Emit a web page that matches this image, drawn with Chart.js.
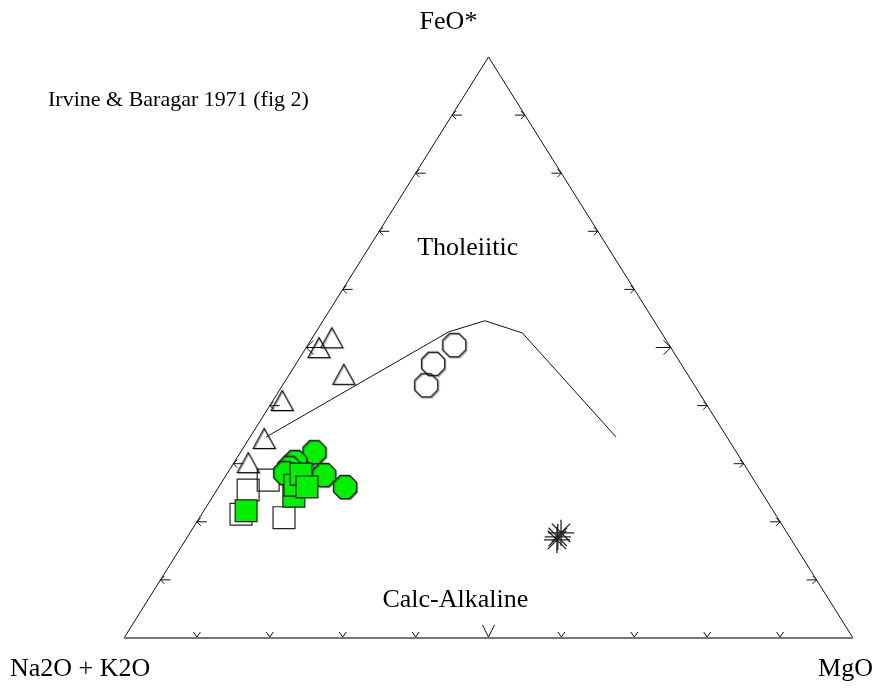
<!DOCTYPE html>
<html>
<head>
<meta charset="utf-8">
<script src="https://cdn.jsdelivr.net/npm/chart.js@4.4.0/dist/chart.umd.min.js"></script>
<style>
body{margin:0;background:#fff;}
#wrap{width:879px;height:688px;position:relative;}
</style>
</head>
<body>
<div id="wrap"><canvas id="myChart"></canvas></div>
<script>
// every point is [Na2O+K2O, FeO*, MgO] in %
const apexLabels = ['Na2O + K2O', 'FeO*', 'MgO'];
const title = 'Irvine & Baragar 1971 (fig 2)';
const fieldLabels = ['Tholeiitic', 'Calc-Alkaline'];
const fieldPos = [[19.3, 67.1, 13.6], [51.3, 6.5, 42.2]];
const apexes = [[100, 0, 0], [0, 100, 0], [0, 0, 100]];
const tickSteps = [10, 20, 30, 40, 50, 60, 70, 80, 90];

const boundary = [[63.2, 34.6, 2.2], [29.1, 52.7, 18.2], [23.2, 54.6, 22.2], [19.1, 52.5, 28.4], [15.2, 34.6, 50.2]];

const openTriangles = [[45.7, 51.6, 2.7], [48.3, 49.9, 1.8], [47.2, 45.3, 7.5], [57.9, 40.8, 1.3], [63.7, 34.3, 2.1], [67.9, 30.1, 2.0]];
const openOctagons = [[29.5, 50.4, 20.1], [34.0, 47.2, 18.8], [36.8, 43.5, 19.7]];
const openSquares = [[70.3, 25.5, 4.3], [73.3, 21.3, 5.4], [67.7, 20.7, 11.6], [66.7, 27.2, 6.2], [60.9, 29.1, 10.0]];
const greenSquares = [[72.3, 21.9, 5.8], [64.5, 24.4, 11.1], [63.4, 26.3, 10.3], [61.6, 28.2, 10.2], [61.9, 26.0, 12.1]];
const greenOctagons = [[57.9, 32.0, 10.1], [61.4, 30.3, 8.3], [62.7, 29.3, 8.0], [63.7, 28.4, 7.9], [58.6, 28.1, 13.4], [56.7, 26.0, 17.3]];
const stars = [[31.8, 17.4, 50.8], [31.0, 18.1, 50.9], [32.2, 16.9, 51.0]];

// ternary -> cartesian (x along the base, y = FeO fraction)
function tern(p) {
    const s = p[0] + p[1] + p[2];
    const f = p[1] / s, m = p[2] / s;
    return {x: m + f / 2, y: f};
}

function octagon(fill, stroke) {
    const c = document.createElement('canvas');
    c.width = c.height = 30;
    const g = c.getContext('2d');
    // faint shadow like the original plot
    g.shadowColor = 'rgba(0,0,0,0.35)';
    g.shadowOffsetX = 1;
    g.shadowOffsetY = 1;
    g.beginPath();
    for (let i = 0; i < 8; i++) {
        const a = Math.PI / 8 + i * Math.PI / 4;
        const px = 15 + 12.5 * Math.cos(a), py = 15 + 12.5 * Math.sin(a);
        i ? g.lineTo(px, py) : g.moveTo(px, py);
    }
    g.closePath();
    if (fill) { g.fillStyle = fill; g.fill(); }
    g.strokeStyle = stroke;
    g.lineWidth = 1.2;
    g.stroke();
    return c;
}

function triangleImg() {
    const c = document.createElement('canvas');
    c.width = c.height = 30;
    const g = c.getContext('2d');
    g.shadowColor = 'rgba(0,0,0,0.3)';
    g.shadowOffsetX = 1;
    g.shadowOffsetY = 1;
    g.beginPath();
    g.moveTo(15, 4.5);
    g.lineTo(26, 24.5);
    g.lineTo(4, 24.5);
    g.closePath();
    g.strokeStyle = '#000';
    g.lineWidth = 1.1;
    g.stroke();
    return c;
}

const GREEN = 'rgb(0,240,0)';

const ternaryExtras = {
    id: 'ternaryExtras',
    afterDatasetsDraw(chart) {
        const {ctx, scales: {x, y}} = chart;
        const P = (p) => { const t = tern(p); return [x.getPixelForValue(t.x), y.getPixelForValue(t.y)]; };
        ctx.save();
        ctx.strokeStyle = '#111';
        ctx.lineWidth = 1;
        tickSteps.forEach(v => {
            const big = v === 50;
            // bottom edge (MgO)
            let [px, py] = P([100 - v, 0, v]);
            let s = big ? 6 : 3.5, h = big ? 13 : 6;
            ctx.beginPath();
            ctx.moveTo(px - s, py - h); ctx.lineTo(px, py - 1); ctx.lineTo(px + s, py - h);
            ctx.stroke();
            // left edge (FeO*)
            [px, py] = P([100 - v, v, 0]);
            s = big ? 7 : 4; h = big ? 15 : 10;
            ctx.beginPath();
            ctx.moveTo(px + s, py - s); ctx.lineTo(px, py); ctx.lineTo(px + s, py + s);
            ctx.moveTo(px, py); ctx.lineTo(px + h, py);
            ctx.stroke();
            // right edge
            [px, py] = P([0, v, 100 - v]);
            ctx.beginPath();
            ctx.moveTo(px - s, py - s); ctx.lineTo(px, py); ctx.lineTo(px - s, py + s);
            ctx.moveTo(px, py); ctx.lineTo(px - h, py);
            ctx.stroke();
        });

        ctx.fillStyle = '#000';
        ctx.textBaseline = 'middle';
        ctx.font = '26px "Liberation Serif", "DejaVu Serif", serif';
        const [ax, ay] = P(apexes[0]);
        const [fx, fy] = P(apexes[1]);
        const [mx, my] = P(apexes[2]);
        ctx.textAlign = 'left';
        ctx.fillText(apexLabels[0], ax - 114, ay + 31);
        ctx.textAlign = 'right';
        ctx.fillText(apexLabels[2], mx + 20, my + 31);
        ctx.textAlign = 'center';
        ctx.fillText(apexLabels[1], fx - 40, fy - 35);
        fieldLabels.forEach((t, i) => {
            const [px, py] = P(fieldPos[i]);
            ctx.fillText(t, px, py);
        });
        ctx.textAlign = 'left';
        ctx.font = '22px "Liberation Serif", "DejaVu Serif", serif';
        ctx.fillText(title, ax - 76, fy + 43);
        ctx.restore();
    }
};

const pts = (arr) => arr.map(tern);

const data = {
    datasets: [
        {
            label: 'frame',
            data: pts([apexes[0], apexes[1], apexes[2]]),
            showLine: true, borderColor: '#111', borderWidth: 1, pointRadius: 0, order: 20
        },
        {
            label: 'base',
            data: pts([apexes[0], apexes[2]]),
            showLine: true, borderColor: '#777', borderWidth: 2, pointRadius: 0, order: 19
        },
        {
            label: 'boundary',
            data: pts(boundary),
            showLine: true, borderColor: '#111', borderWidth: 1, pointRadius: 0, order: 18
        },
        {
            label: 'open squares',
            data: pts(openSquares),
            pointStyle: 'rect', pointRadius: 15.5, borderColor: '#222', borderWidth: 1.2,
            backgroundColor: 'rgba(0,0,0,0)', order: 10
        },
        {
            label: 'green octagons',
            data: pts(greenOctagons),
            pointStyle: octagon(GREEN, '#222'), pointRadius: 12, order: 9
        },
        {
            label: 'green squares',
            data: pts(greenSquares),
            pointStyle: 'rect', pointRadius: 15.5, borderColor: '#222', borderWidth: 1.2,
            backgroundColor: GREEN, order: 8
        },
        {
            label: 'open triangles',
            data: pts(openTriangles),
            pointStyle: triangleImg(), pointRadius: 11, order: 7
        },
        {
            label: 'open octagons',
            data: pts(openOctagons),
            pointStyle: octagon(null, '#111'), pointRadius: 12, order: 7
        },
        {
            label: 'stars',
            data: pts(stars),
            pointStyle: 'star', pointRadius: 13, borderColor: '#222', borderWidth: 1.3, order: 7
        }
    ]
};

const config = {
    type: 'scatter',
    data,
    options: {
        responsive: true,
        maintainAspectRatio: false,
        animation: false,
        events: [],
        layout: {padding: {left: 124, right: 26, top: 57, bottom: 50}},
        scales: {
            x: {type: 'linear', min: 0, max: 1, display: false},
            y: {type: 'linear', min: 0, max: 1, display: false}
        },
        elements: {line: {tension: 0}},
        clip: false,
        plugins: {
            legend: {display: false},
            tooltip: {enabled: false}
        }
    },
    plugins: [ternaryExtras]
};

var myChart = new Chart(document.getElementById('myChart'), config);
</script>
</body>
</html>
